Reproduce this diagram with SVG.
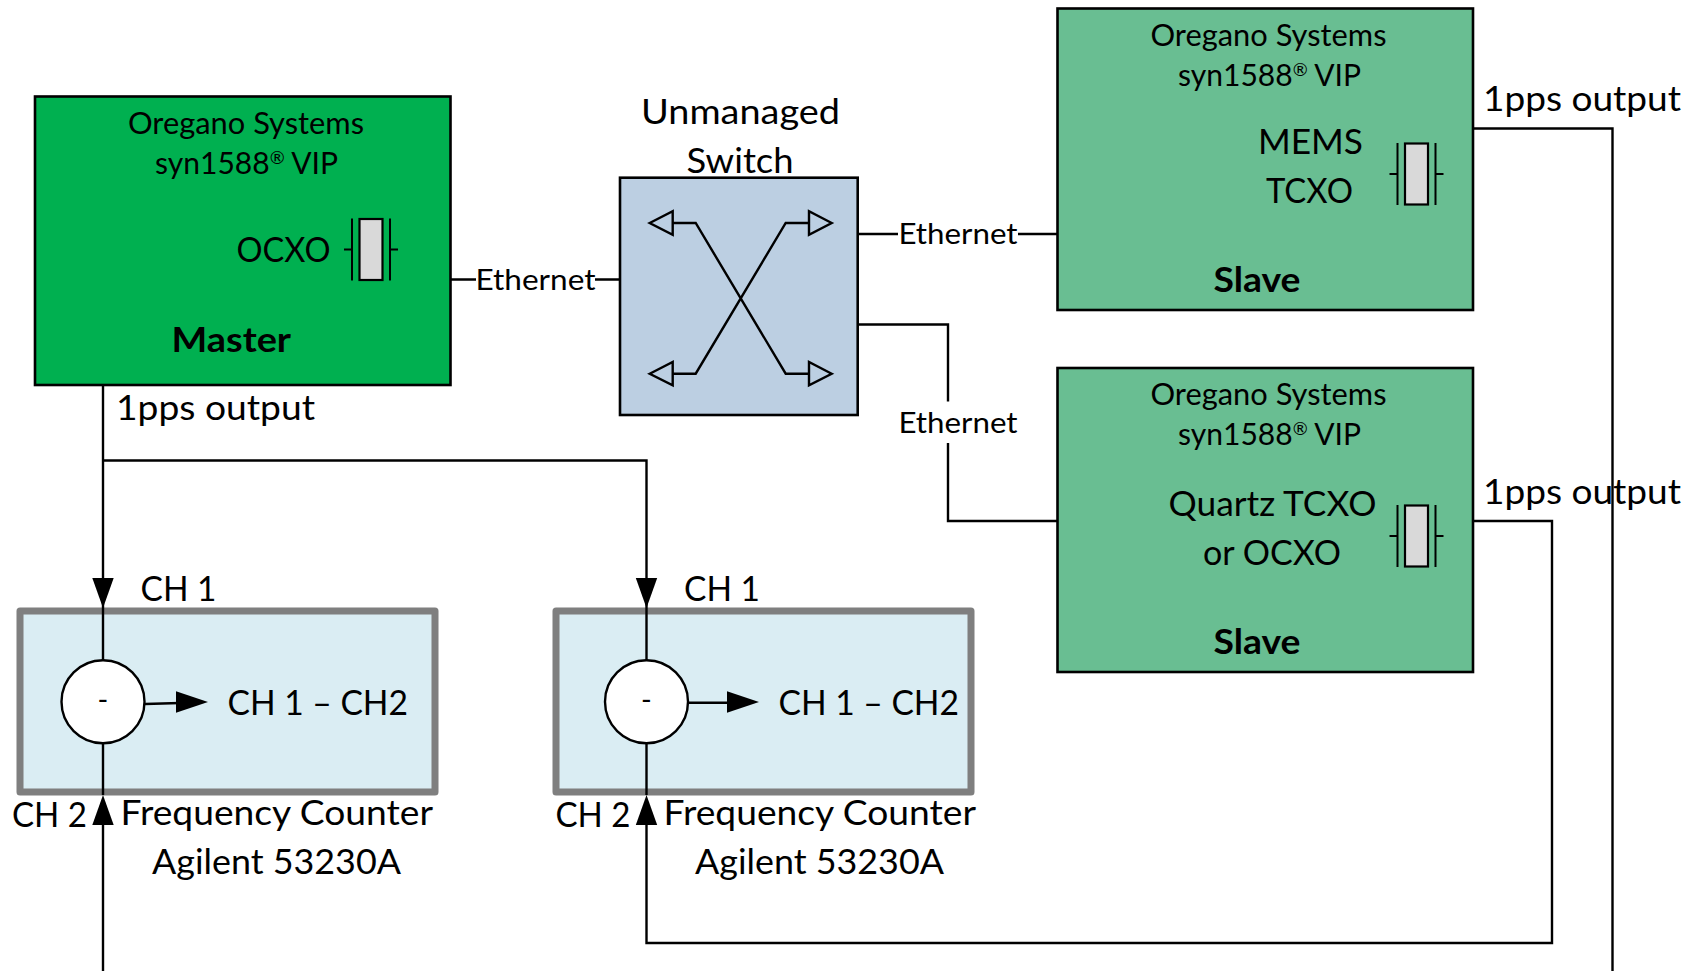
<svg xmlns="http://www.w3.org/2000/svg" width="1700" height="971" viewBox="0 0 1700 971">
<style>
text{font-family:Lato,"Open Sans","Liberation Sans",sans-serif;fill:#000}
.s{font-size:30px}.m{font-size:35px}.e{font-size:29.500px}.b{font-size:35px;font-weight:700}
.r{font-size:18px}
.box{stroke:#000;stroke-width:2.6}
.ctr{fill:#daedf3;stroke:#7f7f7f;stroke-width:7;stroke-linejoin:round}
.l{fill:none;stroke:#000;stroke-width:2.400}
.t{fill:none;stroke:#000;stroke-width:2}
.ah{fill:#000;stroke:none}
.hollow{fill:none;stroke:#000;stroke-width:2.400}
.x{fill:#d9d9d9;stroke:#000;stroke-width:2.200}
</style>
<defs>
<g id="xtal">
<path class="t" d="M-27 0H-19M19 0H27M-19 -31V31M19 -31V31"/>
<rect class="x" x="-11.500" y="-30.500" width="23" height="61"/>
</g>
</defs>
<g id="counter-1">
<rect class="ctr" x="20" y="611" width="415" height="181"/>
</g>
<g id="counter-2">
<rect class="ctr" x="556" y="611" width="415" height="181"/>
</g>
<g id="connectors">
<path class="l" d="M450 279.500H476M595 279.500H620"/>
<path class="l" d="M857.700 234H898M1018 234H1057"/>
<path class="l" d="M857.700 324.500H948V401.500M948 443V521H1057"/>
<path class="l" d="M103 385V608"/>
<path class="l" d="M103 460.500H646.500V608"/>
<path class="l" d="M103 608V660M103 743V795"/>
<path class="l" d="M646.500 608V660M646.500 743V795"/>
<path class="l" d="M103 825V971"/>
<path class="l" d="M1473 128.500H1612.500V971"/>
<path class="l" d="M1473 521H1552V943H646.500V825"/>
<path class="l" d="M145 704L180 703"/>
<path class="l" d="M688 702.700H730"/>
<path class="ah" d="M103 608L92.300 578H113.700Z"/>
<path class="ah" d="M646.500 608L635.800 578H657.200Z"/>
<path class="ah" d="M103 795L92.300 825H113.700Z"/>
<path class="ah" d="M646.500 795L635.800 825H657.200Z"/>
<path class="ah" d="M208 702L176 691.300V712.700Z"/>
<path class="ah" d="M759 702L727 691.300V712.700Z"/>
</g>
<g id="master">
<rect class="box" x="35" y="96.500" width="415.500" height="288.500" fill="#00b050"/>
<text class="s" x="128" y="134" textLength="236" lengthAdjust="spacingAndGlyphs">Oregano Systems</text>
<text class="s" x="155" y="174" textLength="183" lengthAdjust="spacingAndGlyphs">syn1588<tspan class="r" dy="-10">®</tspan><tspan dy="10"> VIP</tspan></text>
<text class="m" x="236.500" y="262" textLength="94" lengthAdjust="spacingAndGlyphs">OCXO</text>
<text class="b" x="171.500" y="352" textLength="119.500" lengthAdjust="spacingAndGlyphs">Master</text>
<use href="#xtal" x="371" y="249.500"/>
</g>
<g id="switch">
<rect class="box" x="620" y="177.700" width="237.700" height="237.300" fill="#bccfe2"/>
<path class="l" d="M672.700 223H695.700L785.700 373.700H809M672.700 373.700H695.700L785.700 223H809"/>
<path class="hollow" d="M649.700 223L672.700 211.300V234.700ZM649.700 373.700L672.700 362V385.400ZM831.700 223L809 211.300V234.700ZM831.700 373.700L809 362V385.400Z"/>
</g>
<g id="slave-1">
<rect class="box" x="1057.500" y="8.500" width="415.500" height="301.500" fill="#69be92"/>
<text class="s" x="1150.500" y="46" textLength="236" lengthAdjust="spacingAndGlyphs">Oregano Systems</text>
<text class="s" x="1178" y="86" textLength="183" lengthAdjust="spacingAndGlyphs">syn1588<tspan class="r" dy="-10">®</tspan><tspan dy="10"> VIP</tspan></text>
<text class="m" x="1258" y="154" textLength="105" lengthAdjust="spacingAndGlyphs">MEMS</text>
<text class="m" x="1266" y="203" textLength="87" lengthAdjust="spacingAndGlyphs">TCXO</text>
<text class="b" x="1213.500" y="292" textLength="87" lengthAdjust="spacingAndGlyphs">Slave</text>
<use href="#xtal" x="1416.500" y="174"/>
</g>
<g id="slave-2">
<rect class="box" x="1057.500" y="368" width="415.500" height="304" fill="#69be92"/>
<text class="s" x="1150.500" y="405" textLength="236" lengthAdjust="spacingAndGlyphs">Oregano Systems</text>
<text class="s" x="1178" y="445" textLength="183" lengthAdjust="spacingAndGlyphs">syn1588<tspan class="r" dy="-10">®</tspan><tspan dy="10"> VIP</tspan></text>
<text class="m" x="1168.500" y="516" textLength="208" lengthAdjust="spacingAndGlyphs">Quartz TCXO</text>
<text class="m" x="1203" y="565" textLength="138" lengthAdjust="spacingAndGlyphs">or OCXO</text>
<text class="b" x="1213.500" y="653.500" textLength="87" lengthAdjust="spacingAndGlyphs">Slave</text>
<use href="#xtal" x="1416.500" y="536"/>
</g>
<g id="comparator-1">
<circle cx="103" cy="701.700" r="41.500" fill="#fff" stroke="#000" stroke-width="2.400"/>
<text x="103" y="710" font-size="29" text-anchor="middle">-</text>
</g>
<g id="comparator-2">
<circle cx="646.500" cy="701.700" r="41.500" fill="#fff" stroke="#000" stroke-width="2.400"/>
<text x="646.500" y="710" font-size="29" text-anchor="middle">-</text>
</g>
<g id="labels">
<text class="m" x="641" y="123.500" textLength="199" lengthAdjust="spacingAndGlyphs">Unmanaged</text>
<text class="m" x="686.500" y="172.500" textLength="107" lengthAdjust="spacingAndGlyphs">Switch</text>
<text class="e" x="475.500" y="290" textLength="120" lengthAdjust="spacingAndGlyphs">Ethernet</text>
<text class="e" x="898.500" y="243.500" textLength="119" lengthAdjust="spacingAndGlyphs">Ethernet</text>
<text class="e" x="898.500" y="433" textLength="119" lengthAdjust="spacingAndGlyphs">Ethernet</text>
<text class="m" x="116" y="420" textLength="199" lengthAdjust="spacingAndGlyphs">1pps output</text>
<text class="m" x="1483" y="111" textLength="198" lengthAdjust="spacingAndGlyphs">1pps output</text>
<text class="m" x="1483" y="503.500" textLength="198" lengthAdjust="spacingAndGlyphs">1pps output</text>
<text class="m" x="140.500" y="601" textLength="76" lengthAdjust="spacingAndGlyphs">CH 1</text>
<text class="m" x="684" y="601" textLength="76" lengthAdjust="spacingAndGlyphs">CH 1</text>
<text class="m" x="12" y="826.500" textLength="75" lengthAdjust="spacingAndGlyphs">CH 2</text>
<text class="m" x="555.500" y="826.500" textLength="75" lengthAdjust="spacingAndGlyphs">CH 2</text>
<text class="m" x="227.500" y="714.500" textLength="180.500" lengthAdjust="spacingAndGlyphs">CH 1 – CH2</text>
<text class="m" x="778.500" y="714.500" textLength="180.500" lengthAdjust="spacingAndGlyphs">CH 1 – CH2</text>
<text class="m" x="120.500" y="825" textLength="312.500" lengthAdjust="spacingAndGlyphs">Frequency Counter</text>
<text class="m" x="663.500" y="825" textLength="312.500" lengthAdjust="spacingAndGlyphs">Frequency Counter</text>
<text class="m" x="152" y="874" textLength="249" lengthAdjust="spacingAndGlyphs">Agilent 53230A</text>
<text class="m" x="695" y="874" textLength="249" lengthAdjust="spacingAndGlyphs">Agilent 53230A</text>
</g>
</svg>
